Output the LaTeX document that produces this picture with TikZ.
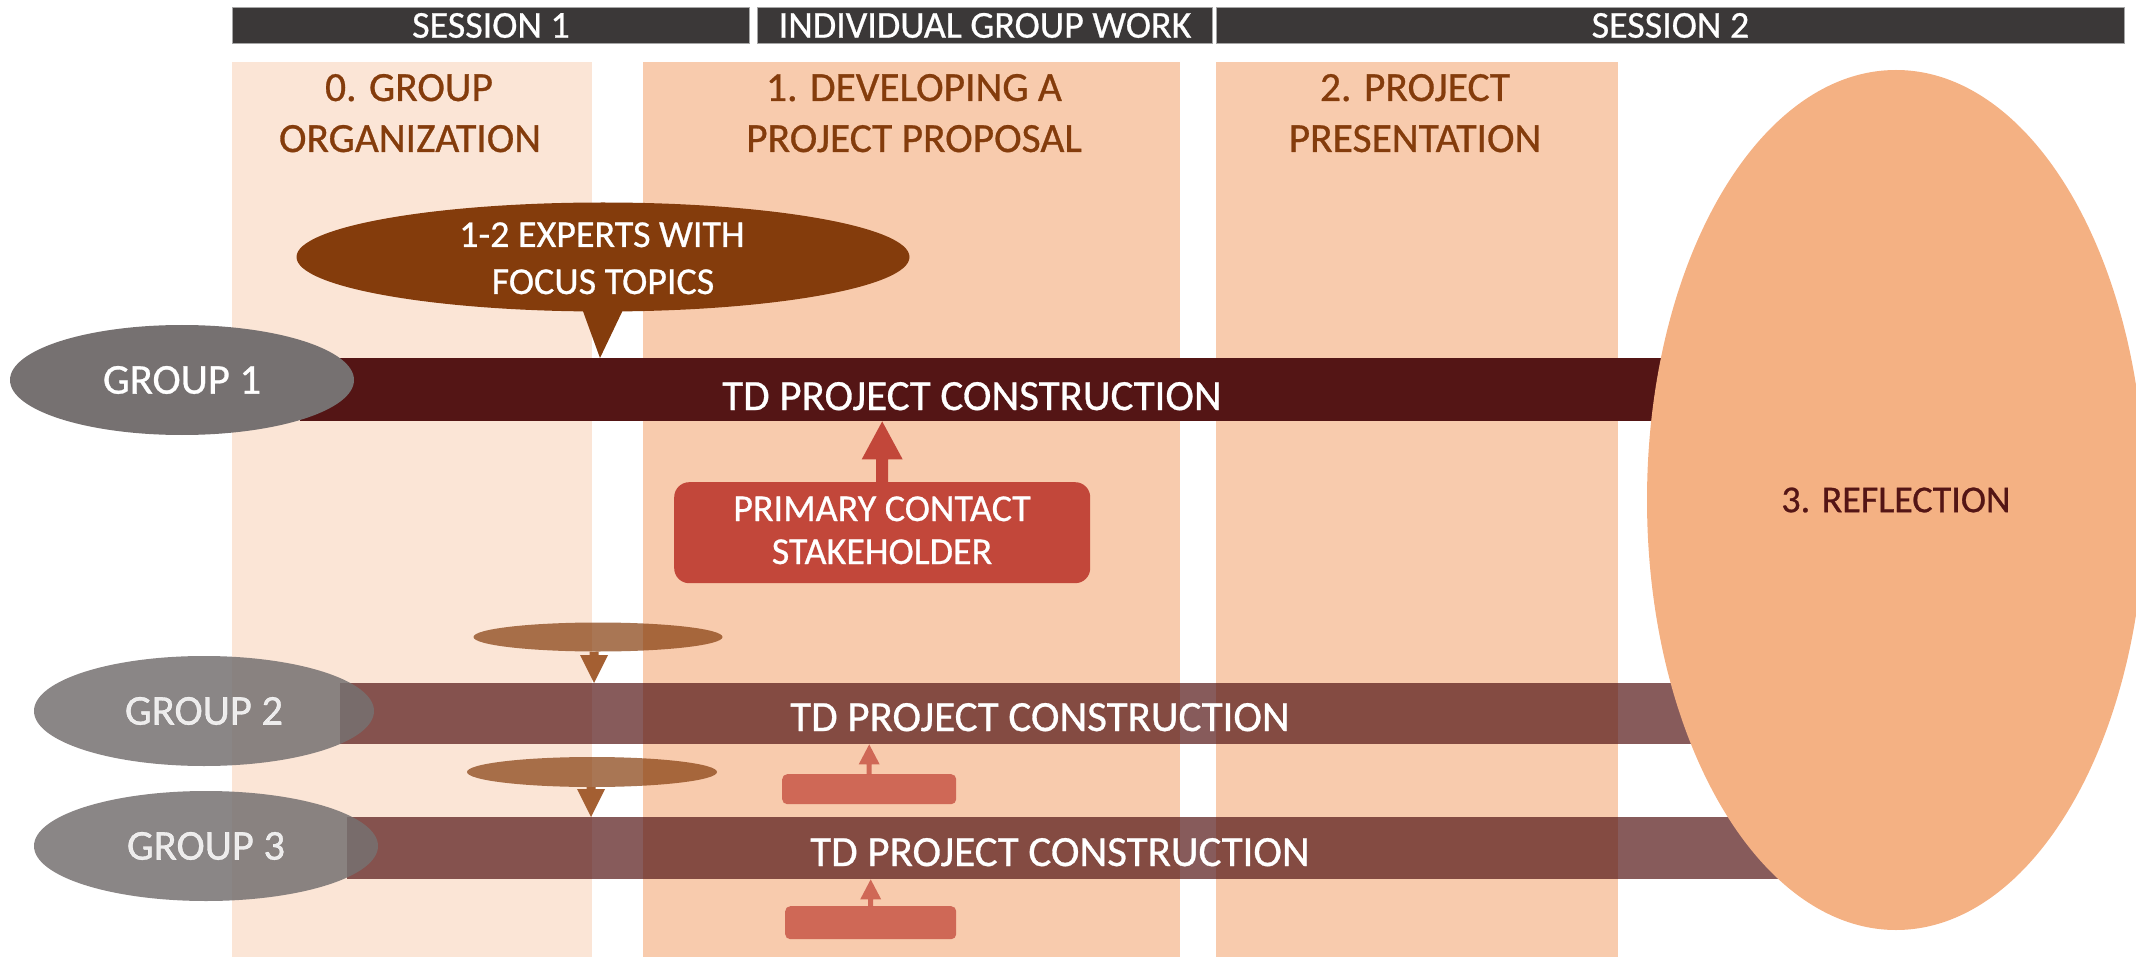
\documentclass[tikz,border=0pt]{standalone}
\usepackage{fontspec}
\setmainfont{Carlito}[FakeBold=0.7]
\usetikzlibrary{shapes.geometric,calc}

\definecolor{headgray}{HTML}{3B3838}
\definecolor{hdrline}{HTML}{A6A6A6}
\definecolor{phaselight}{HTML}{FBE5D6}
\definecolor{phasemid}{HTML}{F8CBAD}
\definecolor{reflectfill}{HTML}{F4B183}
\definecolor{expertbrown}{HTML}{843C0C}
\definecolor{arrowbrown}{HTML}{A45F32}
\definecolor{groupgray}{HTML}{767171}
\definecolor{barmaroon}{HTML}{541515}
\definecolor{contactred}{HTML}{C2473A}
\definecolor{reflecttext}{HTML}{541515}

% vertical block arrow: style, start, tip, shaft half-width, head half-width, head length
\newcommand\blockarrow[6]{%
  \fill[#1] let \p1=(#2), \p2=(#3), \n1={\y2+sign(\y1-\y2)*#6} in
    ({\x2-#4},\y1) -- ({\x2-#4},{\n1*1pt}) -- ({\x2-#5},{\n1*1pt}) -- (\x2,\y2)
    -- ({\x2+#5},{\n1*1pt}) -- ({\x2+#4},{\n1*1pt}) -- ({\x2+#4},\y1) -- cycle;}

\tikzset{
  hdrbar/.style={rectangle, anchor=north west, inner sep=0pt, fill=headgray,
    draw=hdrline, line width=1pt, text=white, font=\fontsize{38}{44}\selectfont,
    minimum height=36pt},
  phasetitle/.style={anchor=base, inner sep=0pt, text=expertbrown,
    font=\fontsize{41.5}{48}\selectfont},
  bar/.style={rectangle, anchor=north west, inner sep=0pt, fill=barmaroon},
  bartext/.style={anchor=base, inner sep=0pt, text=white,
    font=\fontsize{43}{50}\selectfont},
  groupell/.style={ellipse, inner sep=0pt, fill=groupgray, text=white,
    minimum width=344pt, minimum height=110pt, font=\fontsize{42.5}{50}\selectfont},
  whitetext/.style={anchor=base, inner sep=0pt, text=white,
    font=\fontsize{38}{45}\selectfont},
  smallell/.style={ellipse, inner sep=0pt, fill=expertbrown, fill opacity=0.7,
    minimum width=249pt, minimum height=29pt},
  contactbox/.style={rectangle, anchor=north west, inner sep=0pt, fill=contactred},
}

\begin{document}
\begin{tikzpicture}[x=1pt, y=-1pt]
\useasboundingbox (0,0) rectangle (2136,957);
\clip (0,0) rectangle (2136,957);

% phase columns
\fill[phaselight] (232,62) rectangle (592,957);
\fill[phasemid] (643,62) rectangle (1180,957);
\fill[phasemid] (1216,62) rectangle (1618,957);

% timeline headers
\node[hdrbar, minimum width=517pt] (hsess1) at (232,7) {SESSION 1};
\node[hdrbar, minimum width=455pt] (hindiv) at (757,7) {INDIVIDUAL GROUP WORK};
\node[hdrbar, minimum width=908pt] (hsess2) at (1216,7) {SESSION 2};

% phase titles
\node[phasetitle] (p0a) at (409,101) {0. GROUP};
\node[phasetitle] (p0b) at (410,152) {ORGANIZATION};
\node[phasetitle] (p1a) at (914,101) {1. DEVELOPING A};
\node[phasetitle] (p1b) at (914,152) {PROJECT PROPOSAL};
\node[phasetitle] (p2a) at (1415,101) {2. PROJECT};
\node[phasetitle] (p2b) at (1415,152) {PRESENTATION};

% project construction bars
\node[bar, minimum width=1520pt, minimum height=63pt] (bar1) at (300,358) {};
\node[bar, fill opacity=0.7, minimum width=1480pt, minimum height=61pt] (bar2) at (340,683) {};
\node[bar, fill opacity=0.7, minimum width=1473pt, minimum height=62pt] (bar3) at (347,817) {};
\node[bartext] (bar1t) at (972,410) {TD PROJECT CONSTRUCTION};
\node[bartext] (bar2t) at (1040,731) {TD PROJECT CONSTRUCTION};
\node[bartext] (bar3t) at (1060,866) {TD PROJECT CONSTRUCTION};

% groups
\node[groupell] (g1) at (182,380) {GROUP 1};
\node[groupell, fill opacity=0.85, minimum width=340pt] (g2) at (204,711) {GROUP 2};
\node[groupell, fill opacity=0.85] (g3) at (206,846) {GROUP 3};

% experts callout
\node[ellipse, inner sep=0pt, fill=expertbrown, minimum width=613pt, minimum height=109pt] (expert) at (603,257) {};
\fill[expertbrown] ($(expert.south)+(-22pt,6pt)$) -- ($(expert.south)+(22pt,6pt)$)
  -- ($(expert.south |- bar1.north)+(-3pt,0pt)$) -- cycle;
\node[whitetext] (expt1) at (602,247) {1-2 EXPERTS WITH};
\node[whitetext] (expt2) at (603,294) {FOCUS TOPICS};

% experts for groups 2 and 3
\node[smallell] (s2) at (598,637) {};
\node[smallell, minimum width=250pt, minimum height=30pt] (s3) at (592,772) {};
\blockarrow{arrowbrown}{$(s2.south)+(-4pt,0pt)$}{$(s2.south |- bar2.north)+(-4pt,0pt)$}{4.5pt}{14pt}{28pt}
\blockarrow{arrowbrown}{$(s3.south)+(-1pt,0pt)$}{$(s3.south |- bar3.north)+(-1pt,0pt)$}{4.5pt}{14pt}{28pt}

% primary contact stakeholder
\node[contactbox, rounded corners=15pt, minimum width=416pt, minimum height=101pt] (contact) at (674,482) {};
\node[whitetext] (cont1) at (882,521) {PRIMARY CONTACT};
\node[whitetext] (cont2) at (882,564) {STAKEHOLDER};
\blockarrow{contactred}{contact.north}{contact.north |- bar1.south}{6pt}{20.5pt}{38pt}

% stakeholders for groups 2 and 3
\node[contactbox, fill opacity=0.75, rounded corners=5pt, minimum width=174pt, minimum height=30pt] (c2) at (782,774) {};
\node[contactbox, fill opacity=0.75, rounded corners=5pt, minimum width=171pt, minimum height=33pt] (c3) at (785,906) {};
\blockarrow{contactred, fill opacity=0.75}{c2.north}{c2.north |- bar2.south}{2.5pt}{10.5pt}{20pt}
\blockarrow{contactred, fill opacity=0.75}{c3.north}{c3.north |- bar3.south}{2.5pt}{10.5pt}{20pt}

% reflection
\node[ellipse, inner sep=0pt, fill=reflectfill, minimum width=498pt, minimum height=860pt,
  text=reflecttext, font=\fontsize{38}{45}\selectfont] (reflect) at (1896,500) {3. REFLECTION};
\end{tikzpicture}
\end{document}
